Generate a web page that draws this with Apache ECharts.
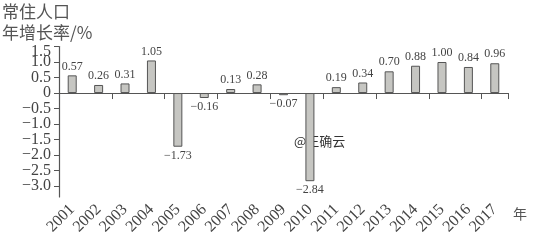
<!DOCTYPE html>
<html><head><meta charset="utf-8">
<script src="https://cdn.jsdelivr.net/npm/echarts@6/dist/echarts.min.js"></script>
<style>html,body{margin:0;padding:0;background:#fff}#c{width:534px;height:246px}</style>
</head><body><div id="c"></div>
<script>
const years = ['2001','2002','2003','2004','2005','2006','2007','2008','2009','2010','2011','2012','2013','2014','2015','2016','2017'];
const growth = [0.57,0.26,0.31,1.05,-1.73,-0.16,0.13,0.28,-0.07,-2.84,0.19,0.34,0.70,0.88,1.00,0.84,0.96];
const yTicks = [0, 1.0, 1.5, 0.5, -0.5, -1.0, -1.5, -2.5, -3.0, -2.0];
const titleLines = ['常住人口','年增长率/%'];
const xUnit = '年';
const watermark = '@正确云';

const serif = '"Liberation Serif","DejaVu Serif",serif';
const txt = '#444';
const fmt = v => (v < 0 ? '\u2212' : '') + Math.abs(v).toFixed(2);
const fmtY = v => {
  const s = Math.abs(v) < 1e-9 ? '0' : (v < 0 ? '\u2212' : '') + Math.abs(v).toFixed(1);
  return v >= 1.5 ? '{top|' + s + '}' : s;
};

const chart = echarts.init(document.getElementById('c'), null, {renderer:'canvas'});
chart.setOption({
  animation:false,
  grid:{left:59, right:26, top:46.5, bottom:49},
  xAxis:[{
    type:'category', data:years, position:'top',
    axisLine:{onZero:true, lineStyle:{color:'#555', width:1.2}},
    axisTick:{show:true, inside:true, length:6, lineStyle:{color:'#555'}},
    axisLabel:{show:false}, splitLine:{show:false}
  },{
    type:'category', data:years, position:'bottom',
    axisLine:{show:false, onZero:false}, axisTick:{show:false},
    axisLabel:{rotate:45, margin:10, color:txt, fontFamily:serif, fontSize:16, interval:0}
  }],
  yAxis:{
    type:'value', min:-3.35, max:1.5,
    axisLine:{show:true, lineStyle:{color:'#555', width:1.2}},
    axisTick:{show:true, length:5, customValues:yTicks, lineStyle:{color:'#555'}},
    axisLabel:{customValues:yTicks, formatter:fmtY, color:txt, fontFamily:serif, fontSize:16, margin:8,
      hideOverlap:false,
      rich:{top:{fontFamily:serif, fontSize:16, color:txt, padding:[10,0,0,0]}}},
    splitLine:{show:false}
  },
  series:[{
    type:'bar', xAxisIndex:0, barWidth:9,
    data: growth.map(v => ({value:v, label:{position: v >= 0 ? 'top' : 'bottom'}})),
    itemStyle:{color:'#c6c6c2', borderColor:'#555', borderWidth:1},
    label:{show:true, formatter:p => fmt(p.value), color:txt, fontFamily:serif, fontSize:12, distance:3}
  }],
  graphic:[
    {type:'text', left:2, top:3, style:{text:titleLines[0], fill:'#555', font:'17px "Noto Sans CJK SC"'}},
    {type:'text', left:2, top:24, style:{text:titleLines[1], fill:'#555', font:'17px "Noto Sans CJK SC"'}},
    {type:'text', left:513, top:207, style:{text:xUnit, fill:'#555', font:'14px "Noto Sans CJK SC"'}},
    {type:'text', left:294, top:135, style:{text:watermark, fill:'#333', font:'13px "Noto Sans CJK SC"'}}
  ]
});
</script></body></html>
